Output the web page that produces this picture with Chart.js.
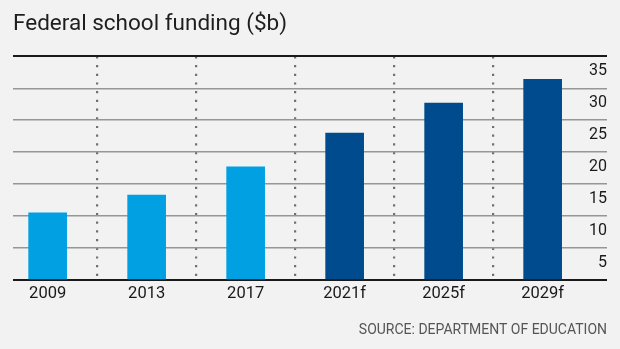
<!DOCTYPE html>
<html>
<head>
<meta charset="utf-8">
<script src="https://cdn.jsdelivr.net/npm/chart.js@4/dist/chart.umd.min.js"></script>
<style>
  html, body { margin: 0; padding: 0; background: #f2f2f2; }
  #wrap { width: 620px; height: 349px; position: relative; }
</style>
</head>
<body>
<div id="wrap"><canvas id="myChart"></canvas></div>
<script>
// DATA
let years = ['2009', '2013', '2017', '2021f', '2025f', '2029f'];
let funding = [10.5, 13.3, 17.7, 23.0, 27.7, 31.4];
let yTicks = [0, 5, 10, 15, 20, 25, 30, 35];

let lightBlue = '#00a0e3';
let darkBlue = '#004b8d';

let ctx = document.getElementById('myChart').getContext('2d');
let myChart = new Chart(ctx, {
  type: 'bar',
  data: {
    datasets: [{
      data: funding.map((v, i) => ({ x: i, y: v })),
      backgroundColor: years.map(y => y.endsWith('f') ? darkBlue : lightBlue),
      barThickness: 38,
      borderWidth: 0
    }]
  },
  options: {
    responsive: true,
    maintainAspectRatio: false,
    animation: false,
    layout: { padding: { left: 13, right: 13, top: 0, bottom: 0 } },
    plugins: {
      legend: { display: false },
      tooltip: { enabled: false },
      title: {
        display: true,
        text: 'Federal school funding ($b)',
        align: 'start',
        color: '#1e1e1e',
        font: { family: 'Roboto', size: 22.5, weight: 'normal' },
        padding: { top: 11, bottom: 18.3 }
      },
      subtitle: {
        display: true,
        position: 'bottom',
        text: 'SOURCE: DEPARTMENT OF EDUCATION',
        align: 'end',
        color: '#555',
        font: { family: 'Roboto', size: 14, weight: 'normal' },
        padding: { top: 14.6, bottom: 10.6 }
      }
    },
    scales: {
      x: {
        type: 'linear',
        offset: false,
        min: -0.35,
        max: years.length - 0.35,
        afterBuildTicks: axis => { axis.ticks = years.map((y, i) => ({ value: i })); },
        ticks: {
          padding: 3.6,
          color: '#1a1a1a',
          font: { family: 'Roboto', size: 16.5 },
          autoSkip: false,
          maxRotation: 0,
          callback: v => years[v]
        },
        grid: {
          offset: true,
          drawTicks: false,
          lineWidth: 2.2,
          color: c => c.type === 'tick' ? '#707070' : 'transparent'
        },
        border: { display: false, dash: [2.2, 6.5] }
      },
      y: {
        position: 'right',
        min: 0,
        max: 35,
        afterBuildTicks: axis => { axis.ticks = yTicks.map(v => ({ value: v })); },
        ticks: {
          mirror: true,
          padding: 0,
          labelOffset: 15,
          color: '#1a1a1a',
          font: { family: 'Roboto', size: 16 },
          callback: v => v === 0 ? '' : v
        },
        grid: {
          drawTicks: false,
          color: c => (c.tick && (c.tick.value === 0 || c.tick.value === 35)) ? '#1a1a1a' : '#969696',
          lineWidth: c => (c.tick && (c.tick.value === 0 || c.tick.value === 35)) ? 2 : 1.5
        },
        border: { display: false }
      }
    }
  }
});
</script>
</body>
</html>
